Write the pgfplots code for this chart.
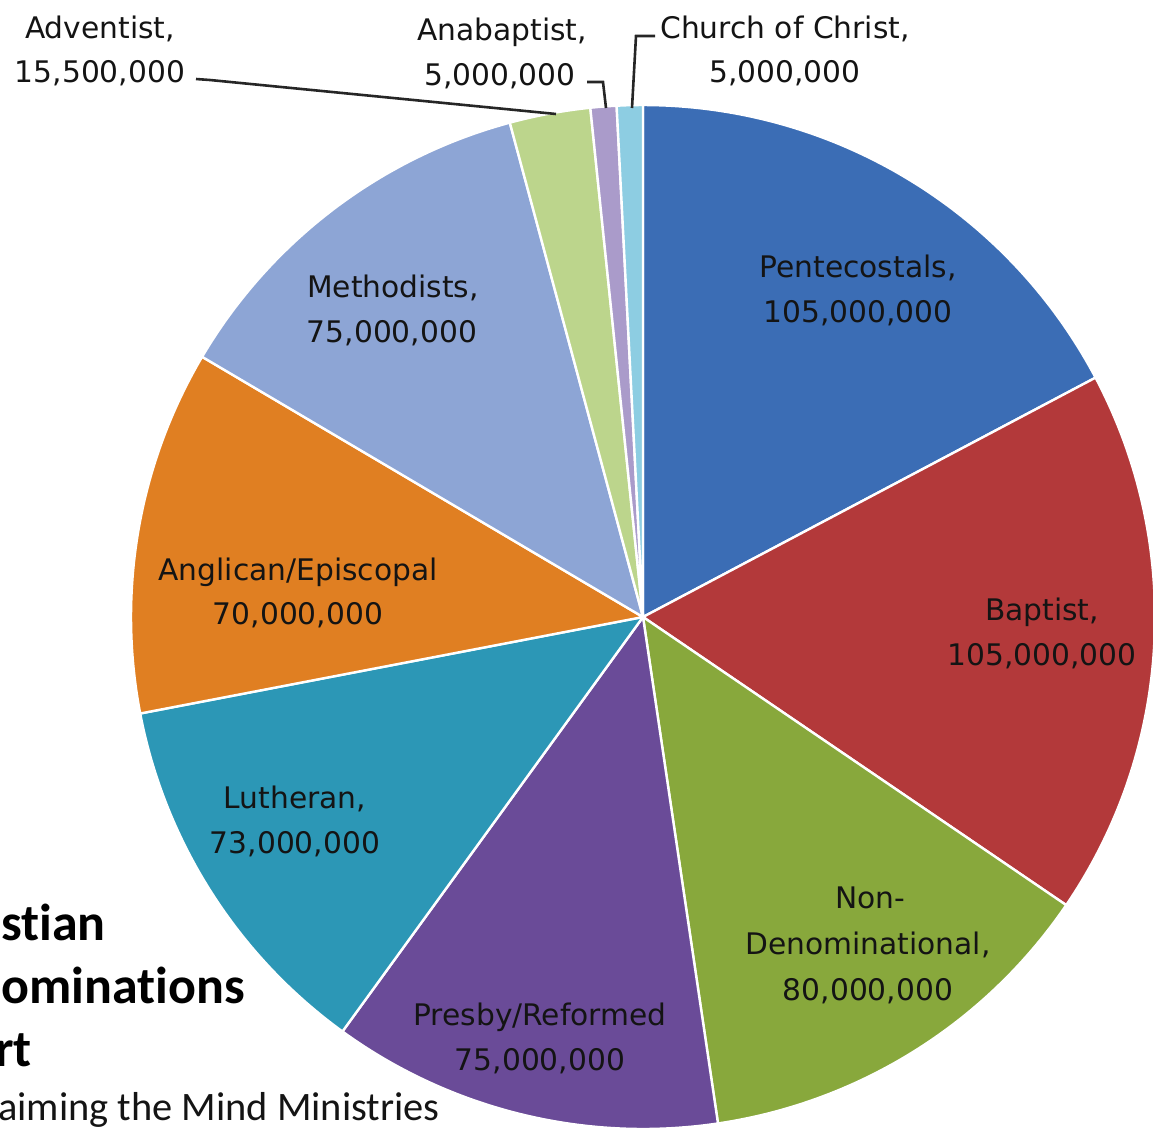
\documentclass[border=0pt]{standalone}
\usepackage{pgfplots}
\pgfplotsset{compat=1.18}
\usepackage{fontspec}
\setmainfont{DejaVu Sans}
\newfontfamily\titlefont[Ligatures={NoCommon,NoContextual}]{Carlito}

\definecolor{cPent}{HTML}{3B6DB5}
\definecolor{cBapt}{HTML}{B3393A}
\definecolor{cNon}{HTML}{88A83C}
\definecolor{cPres}{HTML}{6A4B98}
\definecolor{cLuth}{HTML}{2C97B6}
\definecolor{cAngl}{HTML}{E07F22}
\definecolor{cMeth}{HTML}{8DA5D5}
\definecolor{cAdv}{HTML}{BCD58C}
\definecolor{cAna}{HTML}{AA9BCA}
\definecolor{cChr}{HTML}{8DCDE2}
\definecolor{labc}{HTML}{141414}

% slice values (members)
\def\vPent{105000000}
\def\vBapt{105000000}
\def\vNon{80000000}
\def\vPres{75000000}
\def\vLuth{73000000}
\def\vAngl{70000000}
\def\vMeth{75000000}
\def\vAdv{15500000}
\def\vAna{5000000}
\def\vChr{5000000}

\begin{document}
\begin{tikzpicture}
\useasboundingbox (0,0) rectangle (576.5pt,-568.5pt);
\clip (0,0) rectangle (576.5pt,-568.5pt);
% values in millions for angle computation
\pgfmathsetmacro\tot{105+105+80+75+73+70+75+15.5+5+5}
\pgfmathsetmacro\aA{90}
\pgfmathsetmacro\aB{\aA-105/\tot*360}
\pgfmathsetmacro\aC{\aB-105/\tot*360}
\pgfmathsetmacro\aD{\aC-80/\tot*360}
\pgfmathsetmacro\aE{\aD-75/\tot*360}
\pgfmathsetmacro\aF{\aE-73/\tot*360}
\pgfmathsetmacro\aG{\aF-70/\tot*360}
\pgfmathsetmacro\aH{\aG-75/\tot*360}
\pgfmathsetmacro\aI{\aH-15.5/\tot*360}
\pgfmathsetmacro\aJ{\aI-5/\tot*360}
\pgfmathsetmacro\aK{\aJ-5/\tot*360}
\begin{axis}[at={(321.5pt,-308.5pt)}, anchor=center, hide axis, scale only axis,
  width=512pt, height=512pt, xmin=-1, xmax=1, ymin=-1, ymax=1, clip=false]
\addplot[fill=cPent, draw=white, line width=1.2pt, domain=\aB:\aA, samples=80, variable=\t] ({cos(\t)},{sin(\t)}) -- (axis cs:0,0) -- cycle;
\addplot[fill=cBapt, draw=white, line width=1.2pt, domain=\aC:\aB, samples=80, variable=\t] ({cos(\t)},{sin(\t)}) -- (axis cs:0,0) -- cycle;
\addplot[fill=cNon, draw=white, line width=1.2pt, domain=\aD:\aC, samples=60, variable=\t] ({cos(\t)},{sin(\t)}) -- (axis cs:0,0) -- cycle;
\addplot[fill=cPres, draw=white, line width=1.2pt, domain=\aE:\aD, samples=60, variable=\t] ({cos(\t)},{sin(\t)}) -- (axis cs:0,0) -- cycle;
\addplot[fill=cLuth, draw=white, line width=1.2pt, domain=\aF:\aE, samples=60, variable=\t] ({cos(\t)},{sin(\t)}) -- (axis cs:0,0) -- cycle;
\addplot[fill=cAngl, draw=white, line width=1.2pt, domain=\aG:\aF, samples=60, variable=\t] ({cos(\t)},{sin(\t)}) -- (axis cs:0,0) -- cycle;
\addplot[fill=cMeth, draw=white, line width=1.2pt, domain=\aH:\aG, samples=60, variable=\t] ({cos(\t)},{sin(\t)}) -- (axis cs:0,0) -- cycle;
\addplot[fill=cAdv, draw=white, line width=1.2pt, domain=\aI:\aH, samples=20, variable=\t] ({cos(\t)},{sin(\t)}) -- (axis cs:0,0) -- cycle;
\addplot[fill=cAna, draw=white, line width=1.2pt, domain=\aJ:\aI, samples=10, variable=\t] ({cos(\t)},{sin(\t)}) -- (axis cs:0,0) -- cycle;
\addplot[fill=cChr, draw=white, line width=1.2pt, domain=\aK:\aJ, samples=10, variable=\t] ({cos(\t)},{sin(\t)}) -- (axis cs:0,0) -- cycle;
\end{axis}
\begin{scope}[x=0.5pt,y=-0.5pt, every node/.style={anchor=base, inner sep=0pt, text=labc, font=\fontsize{14.85pt}{18pt}\selectfont}]
\newcommand\lab[3]{\node at (#1,#2) {#3};}
\lab{858}{277}{Pentecostals,}
\lab{858}{322}{105,000,000}
\lab{1042}{620}{Baptist,}
\lab{1042}{665}{105,000,000}
\lab{870}{908}{Non-}
\lab{868}{954}{Denominational,}
\lab{868}{1000}{80,000,000}
\lab{540}{1025}{Presby/Reformed}
\lab{540}{1070}{75,000,000}
\lab{295}{808}{Lutheran,}
\lab{295}{853}{73,000,000}
\lab{298}{580}{Anglican/Episcopal}
\lab{298}{624}{70,000,000}
\lab{393}{297}{Methodists,}
\lab{392}{342}{75,000,000}
\lab{100}{38}{Adventist,}
\lab{100}{82}{15,500,000}
\lab{502}{40}{Anabaptist,}
\lab{500}{85}{5,000,000}
\lab{785}{38}{Church of Christ,}
\lab{785}{82}{5,000,000}
% leader lines
\draw[line width=1.3pt, color=black!85] (196,79) -- (210,80) -- (556,114);
\draw[line width=1.3pt, color=black!85] (587,82) -- (603,82) -- (606,108);
\draw[line width=1.3pt, color=black!85] (655,36) -- (636,36) -- (632,108);
% title
\node[anchor=base west, text=black, font=\titlefont\bfseries\fontsize{26pt}{31pt}\selectfont] at (-86,940) {Christian};
\node[anchor=base west, text=black, font=\titlefont\bfseries\fontsize{26pt}{31pt}\selectfont] at (-86,1003) {Denominations};
\node[anchor=base west, text=black, font=\titlefont\bfseries\fontsize{26pt}{31pt}\selectfont] at (-86,1066) {Chart};
\node[anchor=base east, text=labc, font=\titlefont\fontsize{20.2pt}{25pt}\selectfont] at (440,1120) {Reclaiming the Mind Ministries};
\end{scope}
\end{tikzpicture}
\end{document}
